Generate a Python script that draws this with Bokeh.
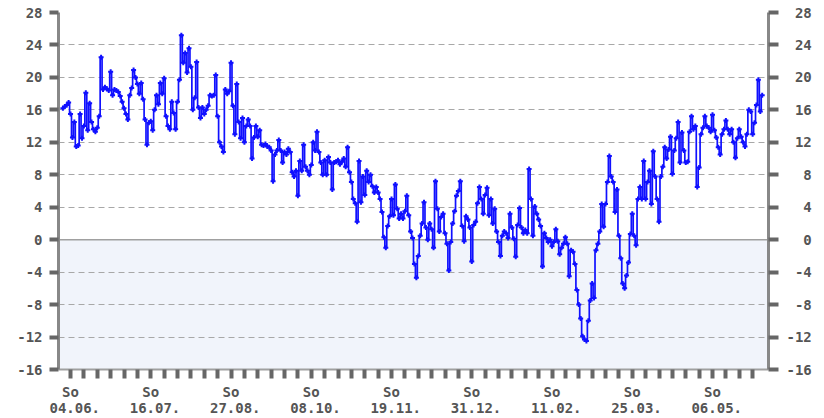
from bokeh.plotting import figure
from bokeh.models import Range1d, FixedTicker, LinearAxis, BoxAnnotation, Span, Label
from bokeh.embed import file_html
from bokeh.resources import INLINE

# ---- data (daily mean temperature, °C) ----
start_day = -4  # day offset relative to Sunday 04.06.
temps = [
    16.2, 16.4, 16.6, 16.9,
    15.5, 12.6, 14.5, 11.5, 11.6, 15.5, 12.5, 14.0, 18.1, 13.5,
    16.8, 14.5, 13.6, 13.3, 13.8, 15.2, 22.5, 18.5, 18.8, 18.6,
    18.4, 20.7, 17.8, 18.5, 18.4, 18.2, 17.7, 17.0, 16.2, 15.5,
    14.8, 17.8, 18.7, 20.9, 20.0, 19.2, 18.0, 19.3, 17.3, 14.8,
    11.7, 14.4, 14.6, 13.5, 16.0, 17.8, 16.7, 19.3, 18.0, 19.9,
    15.2, 14.0, 13.6, 17.0, 15.6, 13.6, 17.0, 19.7, 25.2, 21.8,
    23.0, 20.6, 23.6, 21.3, 16.0, 17.5, 21.9, 16.3, 15.0, 16.3,
    15.5, 16.0, 16.5, 17.8, 17.7, 17.8, 20.3, 15.2, 12.0, 11.5,
    10.8, 18.5, 18.0, 18.3, 21.8, 16.5, 13.0, 19.2, 14.5, 12.5,
    15.0, 12.0, 14.0, 14.8, 14.0, 10.0, 12.6, 14.0, 12.7, 13.5,
    11.7, 11.6, 11.8, 11.5, 11.4, 11.0, 7.2, 10.5, 11.0, 12.3,
    11.0, 9.5, 10.8, 10.5, 11.2, 10.8, 8.3, 7.8, 8.5, 5.4,
    9.7, 8.5, 11.7, 9.0, 8.5, 8.0, 9.2, 12.0, 11.0, 13.3,
    10.8, 9.5, 8.0, 9.8, 8.0, 10.2, 9.5, 6.2, 9.5, 9.6,
    9.8, 9.3, 9.6, 10.0, 9.0, 11.4, 8.3, 7.1, 5.0, 4.5,
    2.2, 9.7, 4.6, 7.8, 5.5, 8.5, 7.1, 8.0, 6.6, 5.8,
    6.5, 5.8, 5.0, 3.4, 0.3, -1.0, 1.7, 2.9, 5.0, 3.0,
    6.8, 3.8, 2.6, 3.2, 2.6, 3.5, 5.4, 3.0, 1.0, 0.2,
    -3.0, -4.7, -2.0, 0.5, 2.0, 4.6, 1.5, 0.0, 2.0, 1.3,
    -1.0, 7.2, 3.8, 1.0, 2.8, 3.2, 0.8, -0.5, -3.8, -0.3,
    2.0, 3.5, 5.4, 6.0, 7.2, 1.7, -0.2, 2.9, 2.5, 1.5,
    -2.7, 1.8, 2.2, 4.5, 6.5, 5.0, 3.2, 5.5, 6.4, 3.0,
    5.0, 2.0, 3.8, 1.0, -0.3, -2.0, 0.5, 1.0, 0.8, 0.2,
    3.2, 1.5, 0.1, -2.1, 1.8, 3.9, 1.5, 0.8, 1.2, 0.8,
    8.7, 5.0, 0.5, 4.1, 3.2, 2.5, 1.7, -3.3, 0.8, 0.2,
    -0.3, 0.0, -0.8, -0.3, 1.3, -0.2, -1.8, -1.0, -0.5, 0.3,
    -0.5, -4.5, -1.3, -1.5, -3.0, -6.2, -8.0, -9.7, -11.9, -12.3,
    -12.5, -10.0, -7.5, -5.4, -7.2, -1.3, -0.5, 1.0, 4.4, 1.6,
    4.4, 7.1, 10.3, 7.8, 7.1, 3.4, 6.2, 0.5, -2.3, -5.4,
    -6.0, -4.4, -2.8, 0.7, 3.2, 0.5, -0.7, 5.0, 6.5, 5.0,
    9.7, 5.0, 7.1, 8.5, 4.4, 10.9, 7.8, 5.0, 2.2, 7.8,
    9.0, 11.4, 10.0, 11.1, 12.7, 8.1, 11.0, 12.5, 14.5, 9.5,
    13.2, 11.0, 9.5, 9.6, 13.3, 15.2, 13.6, 14.0, 6.5, 8.9,
    13.0, 13.8, 15.2, 14.0, 13.8, 13.3, 15.4, 13.5, 12.6, 11.4,
    10.5, 13.0, 13.6, 14.7, 13.6, 13.0, 13.6, 12.0, 10.1, 12.5,
    13.6, 12.7, 12.0, 11.5, 13.0,
    16.0, 15.8, 13.0, 14.4, 16.6, 19.7, 15.8, 17.8,
]
days = list(range(start_day, start_day + len(temps)))

x_tick_days = [0, 42, 84, 126, 168, 210, 252, 294, 336]
x_tick_labels = ["04.06.", "16.07.", "27.08.", "08.10.", "19.11.",
                 "31.12.", "11.02.", "25.03.", "06.05."]
week_days = list(range(0, 358, 7))
y_ticks = [-16, -12, -8, -4, 0, 4, 8, 12, 16, 20, 24, 28]
watermark = "wetteronline"

FONT = "DejaVu Sans Mono"
TXT = "#555555"
TICK = "#666666"

p = figure(width=824, height=418, output_backend="svg", toolbar_location=None,
           x_range=Range1d(-6.3, 365.3), y_range=Range1d(-16, 28),
           min_border_left=58, min_border_right=56, min_border_top=12,
           min_border_bottom=46)
p.outline_line_color = None
p.background_fill_color = "white"
p.border_fill_color = "white"

# below-zero shading
p.add_layout(BoxAnnotation(top=0, fill_color="#f1f4fb", fill_alpha=1.0,
                           line_color=None, level="image"))

# grid
p.xgrid.visible = False
p.ygrid.ticker = FixedTicker(ticks=y_ticks)
p.ygrid.grid_line_color = "#a8a8a8"
p.ygrid.grid_line_dash = "6 4"
p.ygrid.grid_line_width = 1.2

p.add_layout(Span(location=0, dimension="width", line_color="#a0a0a0",
                  line_width=1.5, level="underlay"))

# left axis
ya = p.yaxis[0]
ya.ticker = FixedTicker(ticks=y_ticks)
ya.major_label_overrides = {v: str(v) for v in y_ticks}
ya.axis_line_color = "#888888"
ya.axis_line_width = 3
ya.major_tick_in = 0
ya.major_tick_out = 9
ya.major_tick_line_width = 4
ya.major_tick_line_color = TICK
ya.minor_tick_line_color = None
ya.major_label_standoff = 7
ya.major_label_text_font = FONT
ya.major_label_text_font_size = "14px"
ya.major_label_text_font_style = "bold"
ya.major_label_text_color = TXT

# right axis (right-aligned labels via padding)
ra = LinearAxis(ticker=FixedTicker(ticks=y_ticks))
ra.major_label_overrides = {v: "\u00a0" * (3 - len(str(v))) + str(v) for v in y_ticks}
ra.axis_line_color = "#888888"
ra.axis_line_width = 3
ra.major_tick_in = 0
ra.major_tick_out = 10
ra.major_tick_line_width = 4
ra.major_tick_line_color = TICK
ra.minor_tick_line_color = None
ra.major_label_standoff = 8
ra.major_label_text_font = FONT
ra.major_label_text_font_size = "14px"
ra.major_label_text_font_style = "bold"
ra.major_label_text_color = TXT
p.add_layout(ra, "right")

# bottom axis
xa = p.xaxis[0]
xa.ticker = FixedTicker(ticks=x_tick_days, minor_ticks=week_days)
xa.major_label_overrides = {d: "So\n\u00a0" + lab for d, lab in zip(x_tick_days, x_tick_labels)}
xa.axis_line_color = "#a0a0a0"
xa.axis_line_width = 2
xa.major_tick_in = 0
xa.major_tick_out = 0
xa.minor_tick_in = 0
xa.minor_tick_out = 9
xa.minor_tick_line_width = 4
xa.minor_tick_line_color = TICK
xa.major_label_standoff = 5
xa.major_label_text_font = FONT
xa.major_label_text_font_size = "14px"
xa.major_label_text_font_style = "bold"
xa.major_label_text_color = TXT
xa.major_label_text_line_height = 1.0

# watermark at the very top (partly cut off, as in the reference)
p.add_layout(Label(x=-5.2, y=28.95, text=watermark, text_font=FONT,
                   text_font_size="13px", text_color="#999999",
                   text_baseline="alphabetic"))

# series
BLUE = "#1010ff"
p.step(days, temps, mode="center", line_color=BLUE, line_width=1.7)
p.scatter(days, temps, marker="cross", size=5, line_color=BLUE, line_width=2)

open("out.html", "w").write(file_html(p, INLINE))
